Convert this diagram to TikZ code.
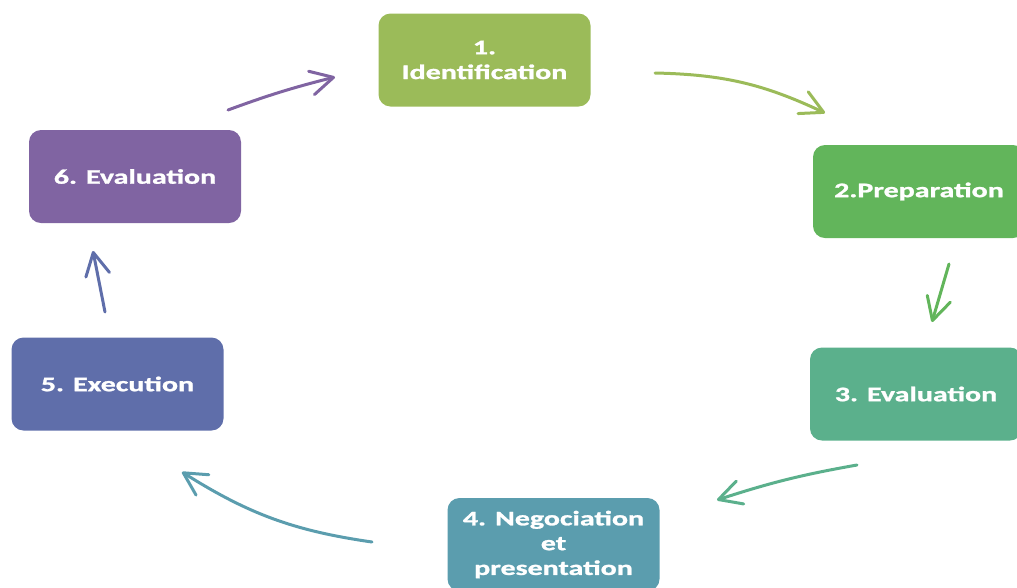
\documentclass[tikz,border=0pt]{standalone}
\usepackage{fontspec}
\setmainfont{Carlito}[FakeStretch=1.45, BoldFeatures={FakeBold=1.3}]
\usetikzlibrary{arrows.meta}
\definecolor{cA}{HTML}{9BBB59}
\definecolor{cB}{HTML}{62B55B}
\definecolor{cC}{HTML}{5BB08C}
\definecolor{cD}{HTML}{5B9DAE}
\definecolor{cE}{HTML}{5F6EAA}
\definecolor{cF}{HTML}{8064A2}
\tikzset{
  stepbox/.style={rounded corners=9pt, minimum width=159pt, minimum height=69.75pt,
    inner sep=0pt, text=white, align=center,
    font=\fontsize{15.5}{18.6}\selectfont\bfseries},
  conn/.style={line width=2.25pt, line cap=round,
    -{Straight Barb[length=17pt,width=18pt,line cap=round,line join=round]}}
}
\begin{document}
\begin{tikzpicture}[x=0.75pt,y=-0.75pt]
\useasboundingbox (0,0) rectangle (1017,587);
\clip (0,0) rectangle (1017,587);
\node[stepbox, fill=cA] (n1) at (484.5,60) {1.\\Identification};
\node[stepbox, fill=cB] (n2) at (919,191.5) {2.Preparation};
\node[stepbox, fill=cC] (n3) at (916,394) {3. Evaluation};
\node[stepbox, fill=cD] (n4) at (553.5,544.5) {4. Negociation\\et\\presentation};
\node[stepbox, fill=cE] (n5) at (117.5,384) {5. Execution};
\node[stepbox, fill=cF] (n6) at (135,176.5) {6. Evaluation};
\coordinate (a1s) at (655,73);  \coordinate (a1e) at (825,113);
\coordinate (a2s) at (949,264); \coordinate (a2e) at (932,322);
\coordinate (a3s) at (857,465); \coordinate (a3e) at (717,500);
\coordinate (a4s) at (372,542); \coordinate (a4e) at (182,472);
\coordinate (a5s) at (105,312); \coordinate (a5e) at (93,251);
\coordinate (a6s) at (228,110); \coordinate (a6e) at (335,77);
\draw[conn, cA] (a1s) to[bend left=12] (a1e);
\draw[conn, cB] (a2s) -- (a2e);
\draw[conn, cC] (a3s) to[bend right=4] (a3e);
\draw[conn, cD] (a4s) to[bend left=12] (a4e);
\draw[conn, cE] (a5s) -- (a5e);
\draw[conn, cF] (a6s) to[bend left=3] (a6e);
\end{tikzpicture}
\end{document}
